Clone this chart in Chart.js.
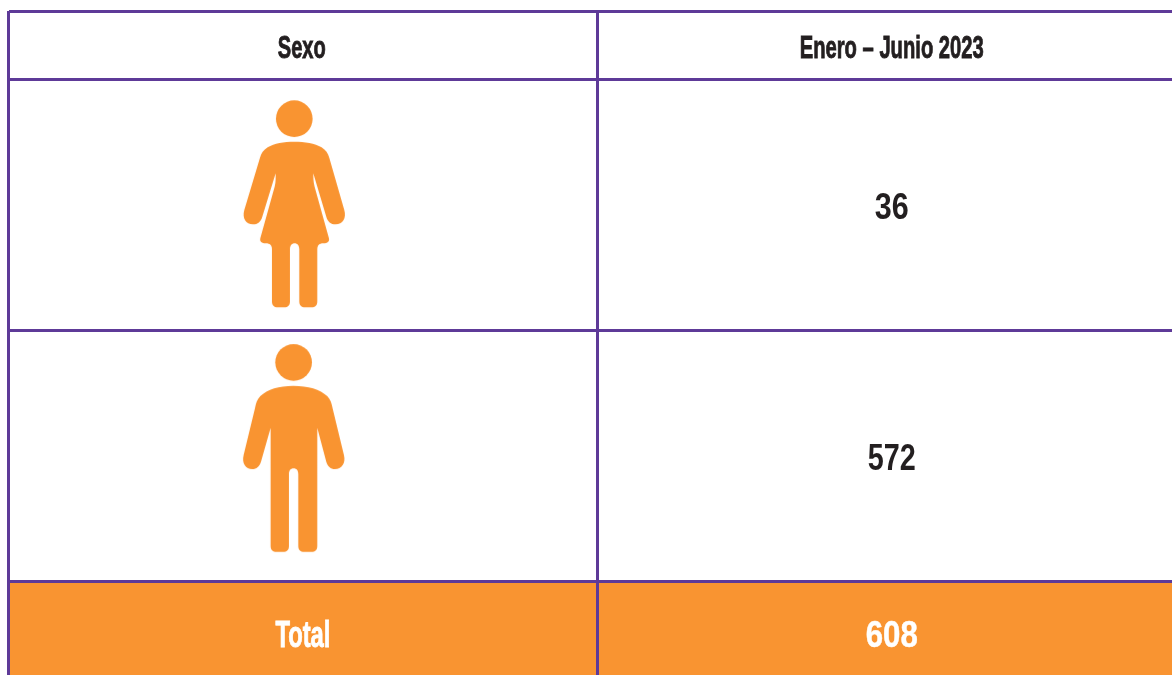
<!DOCTYPE html>
<html lang="es">
<head>
<meta charset="utf-8">
<title>Sexo, Enero – Junio 2023</title>
<style>html,body{margin:0;padding:0;background:#fff}canvas{display:block}</style>
<script src="https://cdn.jsdelivr.net/npm/chart.js@4/dist/chart.umd.min.js"></script>
</head>
<body>
<canvas id="c" width="1172" height="675"></canvas>
<script>
const headerLabels = ["Sexo", "Enero – Junio 2023"];
const sexCategories = ["Mujer", "Hombre"];
const enrolmentValues = [36, 572];
const totalLabel = "Total";
const totalValue = 608;

const columnBoundaries = [0, 1];
const rowBoundaries = [0, 0.271, 1.271, 2.271];
const axisMaxX = 1.976, axisMaxY = 2.645;
const purple = "#5E3A98", orange = "#F99431", ink = "#231F20";
const fontFamily = "'Liberation Sans Narrow','Liberation Sans',sans-serif";

const womanPath = "M193 155C225 155 255 160 275 172C288 180 294 190 298 203L343 360C350 385 338 403 317 403C303 403 293 395 289 380L250 250C250 262 250 275 254 290L297 445C299 455 293 460 280 460C268 460 262 466 262 478L262 634C262 646 256 652 244 652L226 652C214 652 208 646 208 634L208 478C208 466 202 460 194 460C186 460 180 466 180 478L180 634C180 646 174 652 162 652L144 652C132 652 126 646 126 634L126 478C126 466 120 460 108 460C95 460 89 455 91 445L134 290C138 275 137 262 137 250L97 380C93 395 83 403 69 403C48 403 36 385 43 360L90 203C94 190 100 180 113 172C133 160 161 155 193 155Z";
const manPath = "M190 152C235 152 270 162 292 183C302 193 305 205 308 220L342 360C348 385 335 402 315 402C302 402 293 393 289 380L262 278L262 632C262 644 256 650 244 650L223 650C211 650 205 644 205 632L205 418C205 406 200 400 191 400C182 400 177 406 177 418L177 632C177 644 171 650 159 650L140 650C128 650 122 644 122 632L122 278L93 380C89 393 80 402 67 402C47 402 35 385 41 360L75 220C78 205 81 193 91 183C113 162 147 152 190 152Z";

function icon(path, cx, cy, tx, ty) {
  const cv = document.createElement("canvas");
  cv.width = 130; cv.height = 225;
  const g = cv.getContext("2d");
  g.scale(1 / 3, 1 / 3);
  g.translate(tx, ty);
  g.fillStyle = orange;
  g.beginPath(); g.arc(cx, cy, 55, 0, Math.PI * 2); g.fill();
  g.fill(new Path2D(path));
  return cv;
}
const womanIcon = icon(womanPath, 193, 86, -24, -6);
const manIcon = icon(manPath, 191, 82, -24, -24);

const textRows = [0.14, 0.778, 1.778, 2.48];
const textCells = [
  { x: 0.498, y: textRows[0], text: headerLabels[0], width: 48, cap: 23, color: ink, heavy: 0.9 },
  { x: 1.5, y: textRows[0], text: headerLabels[1], width: 184, cap: 23, color: ink, heavy: 0.9 },
  { x: 1.5, y: textRows[1], text: String(enrolmentValues[0]), width: 34, cap: 26, color: ink, heavy: 0 },
  { x: 1.5, y: textRows[2], text: String(enrolmentValues[1]), width: 48, cap: 26, color: ink, heavy: 0 },
  { x: 0.5, y: textRows[3], text: totalLabel, width: 55, cap: 27, color: "#fff", heavy: 0.9 },
  { x: 1.5, y: textRows[3], text: String(totalValue), width: 52, cap: 27, color: "#fff", heavy: 0.5 }
];

const cellText = {
  id: "cellText",
  afterDatasetsDraw(chart) {
    const ctx = chart.ctx, pts = chart.getDatasetMeta(2).data;
    textCells.forEach((c, i) => {
      const size = c.cap / 0.716;
      ctx.save();
      ctx.font = "bold " + size + "px " + fontFamily;
      ctx.textAlign = "center";
      ctx.textBaseline = "alphabetic";
      ctx.fillStyle = c.color;
      ctx.strokeStyle = c.color;
      const w = ctx.measureText(c.text).width;
      ctx.translate(pts[i].x, pts[i].y + c.cap / 2);
      ctx.scale(c.width / w, 1);
      ctx.fillText(c.text, 0, 0);
      if (c.heavy) { ctx.lineWidth = c.heavy; ctx.strokeText(c.text, 0, 0); }
      ctx.restore();
    });
  }
};

new Chart(document.getElementById("c"), {
  type: "scatter",
  plugins: [cellText],
  data: {
    datasets: [
      {
        label: totalLabel,
        showLine: true, fill: "shape", tension: 0, borderWidth: 0, pointRadius: 0,
        backgroundColor: orange, borderColor: orange,
        data: [
          { x: 0, y: rowBoundaries[3] }, { x: axisMaxX, y: rowBoundaries[3] },
          { x: axisMaxX, y: axisMaxY }, { x: 0, y: axisMaxY }, { x: 0, y: rowBoundaries[3] }
        ]
      },
      {
        label: "Sexo",
        pointStyle: [womanIcon, manIcon],
        data: sexCategories.map((_, i) => ({ x: 0.5, y: rowBoundaries[i + 1] + 0.5 }))
      },
      {
        label: "Texto",
        pointRadius: 0,
        data: textCells.map(c => ({ x: c.x, y: c.y }))
      }
    ]
  },
  options: {
    responsive: false,
    animation: false,
    events: [],
    layout: { autoPadding: false, padding: { left: 8.5, top: 11, right: 0, bottom: 0 } },
    plugins: { legend: { display: false }, tooltip: { enabled: false } },
    scales: {
      x: {
        type: "linear", min: 0, max: axisMaxX,
        afterBuildTicks: s => { s.ticks = columnBoundaries.map(v => ({ value: v })); },
        ticks: { display: false, autoSkip: false },
        border: { display: false },
        grid: { color: purple, lineWidth: 3, drawTicks: false, z: 1 }
      },
      y: {
        type: "linear", reverse: true, min: 0, max: axisMaxY,
        afterBuildTicks: s => { s.ticks = rowBoundaries.map(v => ({ value: v })); },
        ticks: { display: false, autoSkip: false },
        border: { display: false },
        grid: { color: purple, lineWidth: 3, drawTicks: false, z: 1 }
      }
    }
  }
});
</script>
</body>
</html>
